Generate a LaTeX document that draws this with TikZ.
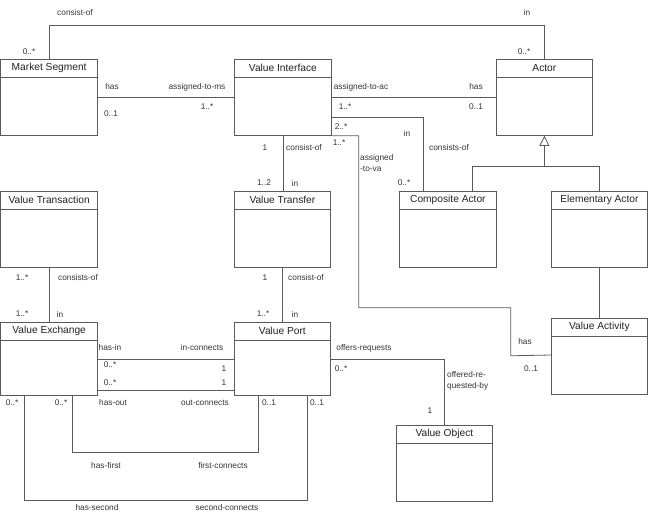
\documentclass[tikz,border=0pt]{standalone}
\usepackage{fontspec}
\setmainfont{Liberation Sans}
\usetikzlibrary{calc,arrows.meta}
\definecolor{linecol}{HTML}{5A5A5A}
\definecolor{textcol}{HTML}{333333}
\definecolor{titlecol}{HTML}{222222}
\tikzset{
  umlline/.style={draw=linecol, line width=0.8pt},
  umlbox/.style={umlline, fill=white, inner sep=0pt, anchor=north west},
  umltitle/.style={text=titlecol, inner sep=0pt, font=\fontsize{10.2}{12}\selectfont},
  lbl/.style={text=textcol, inner sep=0pt, font=\fontsize{8.3}{11}\selectfont},
}
\newcommand{\umlclass}[6]{%
  \node[umlbox, minimum width=#4pt, minimum height=#5pt] (#1) at (#2,#3) {};
  \node[umltitle] (#1-t) at ($(#1.north)+(0,9)$) {#6};
  \draw[umlline] ($(#1.north west)+(0,18)$) -- ($(#1.north east)+(0,18)$);
}
\begin{document}
\begin{tikzpicture}[x=1pt,y=-1pt]
\useasboundingbox (0,0) rectangle (649,514);

% classes
\umlclass{ms}{0.5}{59}{96.5}{76}{Market Segment}
\umlclass{vi}{234}{59}{97}{76}{Value Interface}
\umlclass{actor}{496}{59}{96}{76}{Actor}
\umlclass{vtr}{0.5}{191}{96.5}{76}{Value Transaction}
\umlclass{vtf}{234}{191}{96}{76}{Value Transfer}
\umlclass{ca}{399}{191}{97}{76}{Composite Actor}
\umlclass{ea}{551}{191}{96}{76}{Elementary Actor}
\umlclass{ve}{0.5}{322}{96.5}{73}{Value Exchange}
\umlclass{vp}{234}{322}{96}{73}{Value Port}
\umlclass{va}{551}{318}{96}{76}{Value Activity}
\umlclass{vo}{396}{425}{96}{76}{Value Object}

% connectors
\draw[umlline] (ms.north) |- ($(actor.north)+(0,-34)$) -- (actor.north);
\draw[umlline] (ms.east) -- (vi.west);
\draw[umlline] (vi.east) -- (actor.west);
\draw[umlline] ($(vi.east)+(0,20)$) -| ($(ca.north west)+(24,0)$);
\draw[umlline] (vi.south east) -- ++(27,0) -- ++(0,172) -- ++(152,0) -- ++(0,48) -- ($(va.north west)+(0,37)$);
\coordinate (gj) at ($(actor.south)+(0,31)$);
\draw[umlline, -{Triangle[open, length=10pt, width=10pt]}] (gj) -- (actor.south);
\draw[umlline] ($(ca.north west)+(73,0)$) |- (gj) -| (ea.north);
\draw[umlline] (vi.south) -- (vi.south |- vtf.north);
\draw[umlline] (vtf.south) -- (vtf.south |- vp.north);
\draw[umlline] (vtr.south) -- (vtr.south |- ve.north);
\draw[umlline] (ea.south) -- (va.north);
\draw[umlline] ($(ve.north east)+(0,37)$) -- ($(vp.north west)+(0,37)$);
\draw[umlline] ($(ve.north east)+(0,68)$) -- ($(vp.north west)+(0,68)$);
\draw[umlline] ($(ve.south west)+(72,0)$) -- ++(0,57) -| ($(vp.south west)+(24,0)$);
\draw[umlline] ($(ve.south west)+(24,0)$) -- ++(0,105) -| ($(vp.south west)+(73,0)$);
\draw[umlline] ($(vp.north east)+(0,37)$) -| (vo.north);

% labels
\node[lbl] (l1) at (75,13) {consist-of};
\node[lbl] (l2) at (527,12) {in};
\node[lbl] (l3) at (29,52) {0..*};
\node[lbl] (l4) at (524,52) {0..*};
\node[lbl] (l5) at (112,87) {has};
\node[lbl] (l6) at (197,87) {assigned-to-ms};
\node[lbl] (l7) at (111,114) {0..1};
\node[lbl] (l8) at (207,107) {1..*};
\node[lbl] (l9) at (361,87) {assigned-to-ac};
\node[lbl] (l10) at (476,87) {has};
\node[lbl] (l11) at (345,107) {1..*};
\node[lbl] (l12) at (476,107) {0..1};
\node[lbl] (l13) at (341,127) {2..*};
\node[lbl] (l14) at (407,133) {in};
\node[lbl] (l15) at (339,143) {1..*};
\node[lbl, align=left, anchor=west] (l16) at (360,163) {assigned\\-to-va};
\node[lbl] (l17) at (449,148) {consists-of};
\node[lbl] (l18) at (404,183) {0..*};
\node[lbl] (l19) at (265,148) {1};
\node[lbl] (l20) at (304,148) {consist-of};
\node[lbl] (l21) at (264,183) {1..2};
\node[lbl] (l22) at (295,183) {in};
\node[lbl] (l23) at (22,278) {1..*};
\node[lbl] (l24) at (78,278) {consists-of};
\node[lbl] (l25) at (22,314) {1..*};
\node[lbl] (l26) at (60,314) {in};
\node[lbl] (l27) at (265,278) {1};
\node[lbl] (l28) at (306,278) {consist-of};
\node[lbl] (l29) at (263,314) {1..*};
\node[lbl] (l30) at (295,314) {in};
\node[lbl] (l31) at (110,348) {has-in};
\node[lbl] (l32) at (202,348) {in-connects};
\node[lbl] (l33) at (110,365) {0..*};
\node[lbl] (l34) at (224,369) {1};
\node[lbl] (l35) at (110,383) {0..*};
\node[lbl] (l36) at (224,383) {1};
\node[lbl] (l37) at (113,403) {has-out};
\node[lbl] (l38) at (205,403) {out-connects};
\node[lbl] (l39) at (12,403) {0..*};
\node[lbl] (l40) at (61,403) {0..*};
\node[lbl] (l41) at (269,403) {0..1};
\node[lbl] (l42) at (317,403) {0..1};
\node[lbl] (l43) at (106,466) {has-first};
\node[lbl] (l44) at (223,466) {first-connects};
\node[lbl] (l45) at (97,508) {has-second};
\node[lbl] (l46) at (227,508) {second-connects};
\node[lbl] (l47) at (364,348) {offers-requests};
\node[lbl] (l48) at (341,369) {0..*};
\node[lbl, align=left, anchor=west] (l49) at (447,381) {offered-re-\\quested-by};
\node[lbl] (l50) at (430,411) {1};
\node[lbl] (l51) at (525,342) {has};
\node[lbl] (l52) at (531,369) {0..1};
\end{tikzpicture}
\end{document}
